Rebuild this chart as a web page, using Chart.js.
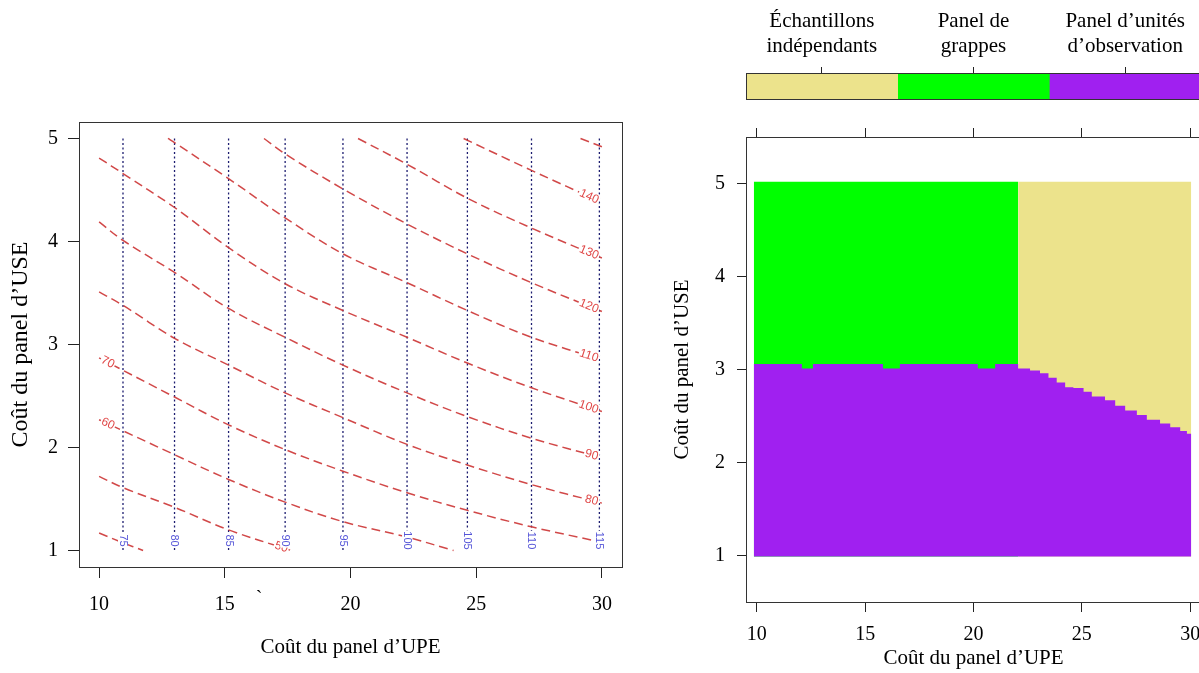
<!DOCTYPE html>
<html lang="fr">
<head>
<meta charset="utf-8">
<title>Coût du panel d’UPE et d’USE</title>
<script src="https://cdn.jsdelivr.net/npm/chart.js@4.4.1/dist/chart.umd.min.js"></script>
<style>
  html, body { margin: 0; padding: 0; background: #fff; }
  body { width: 1199px; height: 673px; overflow: hidden; position: relative; }
  canvas { position: absolute; }
  #contour { left: 0; top: 0; }
  #designKey { left: 640px; top: 0; }
  #design { left: 640px; top: 100px; }
</style>
</head>
<body>
<canvas id="contour" width="640" height="673"></canvas>
<canvas id="designKey" width="600" height="100"></canvas>
<canvas id="design" width="600" height="573"></canvas>
<script>
// axes
const upeTicks = [10, 15, 20, 25, 30];
const useTicks = [1, 2, 3, 4, 5];
const useRange = [1, 5];

// courbes de coût total (rouge), points [coût UPE, coût USE]
const isoLevels = [40, 50, 60, 70, 80, 90, 100, 110, 120, 130, 140, 150];
const iso40 = [[10, 1.17], [10.9, 1.08], [11.75, 1.0]];
const iso50 = [[10, 1.72], [10.95, 1.61], [13.0, 1.42], [15.15, 1.20], [17.65, 1.0]];
const iso60 = [[10, 2.27], [13.0, 1.93], [15.15, 1.69], [17.4, 1.47], [19.7, 1.28], [22.25, 1.13], [24.1, 1.0]];
const iso70 = [[10, 2.87], [13.0, 2.49], [15.15, 2.22], [17.4, 1.98], [19.7, 1.77], [22.25, 1.56], [24.65, 1.39], [27.2, 1.23], [30, 1.08]];
const iso80 = [[10, 3.51], [10.95, 3.38], [13.0, 3.06], [15.15, 2.80], [17.4, 2.53], [19.7, 2.29], [22.25, 2.03], [24.65, 1.83], [27.2, 1.64], [30, 1.46]];
const iso90 = [[10, 4.19], [10.95, 4.01], [13.0, 3.70], [15.15, 3.35], [17.4, 3.07], [19.7, 2.80], [22.25, 2.53], [24.65, 2.30], [27.2, 2.09], [30, 1.90]];
const iso100 = [[10, 4.81], [10.95, 4.66], [13.0, 4.33], [15.15, 3.94], [17.4, 3.59], [19.7, 3.33], [22.25, 3.07], [24.65, 2.82], [27.2, 2.58], [30, 2.35]];
const iso110 = [[12.74, 5.0], [13.0, 4.96], [15.15, 4.61], [17.4, 4.23], [19.7, 3.88], [22.25, 3.60], [24.65, 3.33], [27.2, 3.07], [30, 2.85]];
const iso120 = [[16.56, 5.0], [17.4, 4.85], [19.7, 4.51], [22.25, 4.17], [24.65, 3.88], [27.2, 3.60], [30, 3.32]];
const iso130 = [[20.3, 5.0], [22.25, 4.75], [24.65, 4.42], [27.2, 4.13], [30, 3.84]];
const iso140 = [[24.5, 5.0], [27.2, 4.69], [30, 4.38]];
const iso150 = [[29.15, 5.0], [30, 4.92]];
const isoLines = [iso40, iso50, iso60, iso70, iso80, iso90, iso100, iso110, iso120, iso130, iso140, iso150];
const isoLabelEnds = [null, 'end', 'start', 'start', 'end', 'end', 'end', 'end', 'end', 'end', 'end', null];

// coût du panel d'UPE seul (bleu)
const upeLevels = [75, 80, 85, 90, 95, 100, 105, 110, 115];
const upeAt = [10.95, 13.0, 15.15, 17.4, 19.7, 22.25, 24.65, 27.2, 29.9];

// plan optimal
const designNames = [['Échantillons', 'indépendants'], ['Panel de', 'grappes'], ['Panel d’unités', 'd’observation']];
const keyShare = [1, 1, 1];
const keyTicks = [0.5, 1.5, 2.5];
const designColors = ['#ece38c', '#00ff00', '#a020f0'];
const gridBottom = 0.99;
const greenBlock = [[9.86, 5.02], [22.06, 5.02]];
const khakiBlock = [[22.06, 5.02], [30.05, 5.02]];
const purpleTop = [
    [9.86, 3.06], [12.08, 3.01], [12.59, 3.06], [15.82, 3.01], [16.6, 3.06], [20.2, 3.01], [21.0, 3.06],
    [22.06, 3.01], [22.61, 2.99], [23.07, 2.96], [23.46, 2.91], [23.84, 2.86], [24.23, 2.81], [24.61, 2.80],
    [25.08, 2.76], [25.46, 2.71], [26.07, 2.67], [26.54, 2.61], [27.0, 2.56], [27.54, 2.51], [28.0, 2.46],
    [28.61, 2.42], [29.08, 2.38], [29.54, 2.34], [29.85, 2.31], [30.05, 2.31]
];

const serif = '"Liberation Serif", "Times New Roman", serif';
const red = 'rgba(204, 52, 52, 0.9)';
const blue = '#1c1c70';
const toPts = arr => arr.map(([x, y]) => ({ x, y }));
const fixTicks = vals => scale => { scale.ticks = vals.map(v => ({ value: v })); };

const boxPlugin = {
    id: 'box',
    afterDraw(chart) {
        const { ctx, chartArea: a } = chart;
        ctx.save();
        ctx.strokeStyle = '#333';
        ctx.lineWidth = 1;
        ctx.strokeRect(Math.round(a.left) + 0.5, Math.round(a.top) + 0.5, Math.round(a.right - a.left), Math.round(a.bottom - a.top));
        ctx.restore();
    }
};

const contourLabels = {
    id: 'contourLabels',
    afterDatasetsDraw(chart) {
        const { ctx, scales: { x, y } } = chart;
        ctx.save();
        ctx.textAlign = 'center';
        ctx.textBaseline = 'middle';

        // étiquettes rouges le long des courbes
        ctx.font = '12px "Liberation Sans", Arial, sans-serif';
        isoLines.forEach((pts, i) => {
            const where = isoLabelEnds[i];
            if (!where) return;
            const a = where === 'end' ? pts[pts.length - 1] : pts[0];
            const b = where === 'end' ? pts[pts.length - 2] : pts[1];
            const ax = x.getPixelForValue(a[0]), ay = y.getPixelForValue(a[1]);
            const bx = x.getPixelForValue(b[0]), by = y.getPixelForValue(b[1]);
            const len = Math.hypot(bx - ax, by - ay);
            const ux = (bx - ax) / len, uy = (by - ay) / len;
            const txt = String(isoLevels[i]);
            const w = ctx.measureText(txt).width;
            const off = (where === 'end' ? 4 : 3) + w / 2;
            let ang = Math.atan2(uy, ux);
            if (ang > Math.PI / 2) ang -= Math.PI;
            if (ang < -Math.PI / 2) ang += Math.PI;
            ctx.save();
            ctx.translate(ax + ux * off, ay + uy * off);
            ctx.rotate(ang);
            ctx.fillStyle = '#fff';
            ctx.fillRect(-w / 2 - 1, -6, w + 2, 12);
            ctx.fillStyle = '#e04848';
            ctx.fillText(txt, 0, 0);
            ctx.restore();
        });

        // étiquettes bleues verticales
        ctx.font = '11px "Liberation Sans", Arial, sans-serif';
        upeAt.forEach((v, i) => {
            const txt = String(upeLevels[i]);
            const w = ctx.measureText(txt).width;
            ctx.save();
            ctx.translate(x.getPixelForValue(v), y.getPixelForValue(useRange[0]) - 10);
            ctx.rotate(Math.PI / 2);
            ctx.fillStyle = '#fff';
            ctx.fillRect(-w / 2 - 1, -5, w + 2, 10);
            ctx.fillStyle = '#5555d8';
            ctx.fillText(txt, 0, 0);
            ctx.restore();
        });

        ctx.font = '20px ' + serif;
        ctx.fillStyle = '#000';
        ctx.fillText('`', 259, 600);
        ctx.restore();
    }
};

const contourSets = isoLines.map((pts, i) => ({
    label: `Coût ${isoLevels[i]}`,
    data: toPts(pts),
    showLine: true,
    borderColor: red,
    borderWidth: 1.5,
    borderDash: [9, 5],
    pointRadius: 0,
    tension: 0.35
}));

const upeSets = upeAt.map((v, i) => ({
    label: `UPE ${upeLevels[i]}`,
    data: [{ x: v, y: useRange[1] }, { x: v, y: useRange[0] }],
    showLine: true,
    borderColor: blue,
    borderWidth: 1.3,
    borderDash: [2, 2.5],
    pointRadius: 0
}));

new Chart(document.getElementById('contour'), {
    type: 'scatter',
    data: { datasets: [...contourSets, ...upeSets] },
    options: {
        responsive: false,
        animation: false,
        devicePixelRatio: 1,
        events: [],
        layout: { padding: { top: 122, right: 18, bottom: 0, left: 0 } },
        plugins: { legend: { display: false }, tooltip: { enabled: false } },
        scales: {
            x: {
                type: 'linear', min: 9.2, max: 30.8,
                afterBuildTicks: fixTicks(upeTicks),
                afterFit: s => { s.height = 106; },
                grid: { drawOnChartArea: false, tickLength: 11, color: '#222' },
                border: { display: false },
                ticks: { font: { family: serif, size: 20 }, color: '#000', padding: 15, maxRotation: 0 },
                title: { display: true, text: 'Coût du panel d’UPE', font: { family: serif, size: 21 }, color: '#000', padding: { bottom: 13 } }
            },
            y: {
                type: 'linear', min: 0.84, max: 5.16,
                afterBuildTicks: fixTicks(useTicks),
                afterFit: s => { s.width = 79; },
                grid: { drawOnChartArea: false, tickLength: 11, color: '#222' },
                border: { display: false },
                ticks: { font: { family: serif, size: 20 }, color: '#000', padding: 10 },
                title: { display: true, text: 'Coût du panel d’USE', font: { family: serif, size: 24 }, color: '#000', padding: { top: 6 } }
            }
        }
    },
    plugins: [contourLabels, boxPlugin]
});

// légende des couleurs
new Chart(document.getElementById('designKey'), {
    type: 'bar',
    data: {
        labels: ['plan'],
        datasets: designNames.map((n, i) => ({
            label: n.join(' '),
            data: [keyShare[i]],
            backgroundColor: designColors[i],
            borderWidth: 0,
            barPercentage: 1,
            categoryPercentage: 1
        }))
    },
    options: {
        indexAxis: 'y',
        responsive: false,
        animation: false,
        devicePixelRatio: 1,
        events: [],
        layout: { padding: { top: 0, right: 39, bottom: 1, left: 106 } },
        plugins: { legend: { display: false }, tooltip: { enabled: false } },
        scales: {
            x: {
                type: 'linear', position: 'top', stacked: true, min: 0, max: 3,
                afterBuildTicks: fixTicks(keyTicks),
                afterFit: s => { s.height = 73; },
                grid: { drawOnChartArea: false, tickLength: 6, color: '#222' },
                border: { display: false },
                ticks: {
                    font: { family: serif, size: 21 }, color: '#000', padding: 8,
                    maxRotation: 0, autoSkip: false,
                    callback: (v, i) => designNames[i]
                }
            },
            y: { stacked: true, display: false }
        }
    },
    plugins: [boxPlugin]
});

// plan optimal selon les coûts
new Chart(document.getElementById('design'), {
    type: 'scatter',
    data: {
        datasets: [
            { label: designNames[2].join(' '), data: toPts(purpleTop), showLine: true, stepped: true, fill: { value: gridBottom }, backgroundColor: designColors[2], borderColor: designColors[2], borderWidth: 0, pointRadius: 0 },
            { label: designNames[1].join(' '), data: toPts(greenBlock), showLine: true, fill: { value: gridBottom }, backgroundColor: designColors[1], borderColor: designColors[1], borderWidth: 0, pointRadius: 0 },
            { label: designNames[0].join(' '), data: toPts(khakiBlock), showLine: true, fill: { value: gridBottom }, backgroundColor: designColors[0], borderColor: designColors[0], borderWidth: 0, pointRadius: 0 }
        ]
    },
    options: {
        responsive: false,
        animation: false,
        devicePixelRatio: 1,
        events: [],
        layout: { padding: { top: 27, right: 39, bottom: 0, left: 0 } },
        plugins: { legend: { display: false }, tooltip: { enabled: false } },
        scales: {
            x: {
                type: 'linear', min: 9.5, max: 30.5,
                afterBuildTicks: fixTicks(upeTicks),
                afterFit: s => { s.height = 71; },
                grid: { drawOnChartArea: false, tickLength: 10, color: '#222' },
                border: { display: false },
                ticks: { font: { family: serif, size: 20 }, color: '#000', padding: 11, maxRotation: 0 },
                title: { display: true, text: 'Coût du panel d’UPE', font: { family: serif, size: 21 }, color: '#000', padding: { bottom: 2 } }
            },
            xTop: {
                type: 'linear', axis: 'x', position: 'top', min: 9.5, max: 30.5,
                afterBuildTicks: fixTicks(upeTicks),
                afterFit: s => { s.height = 10; },
                grid: { drawOnChartArea: false, tickLength: 9, color: '#222' },
                border: { display: false },
                ticks: { display: false }
            },
            y: {
                type: 'linear', min: 0.5, max: 5.5,
                afterBuildTicks: fixTicks(useTicks),
                afterFit: s => { s.width = 106; },
                grid: { drawOnChartArea: false, tickLength: 9, color: '#222' },
                border: { display: false },
                ticks: { font: { family: serif, size: 20 }, color: '#000', padding: 12 },
                title: { display: true, text: 'Coût du panel d’USE', font: { family: serif, size: 21 }, color: '#000', padding: { top: 30 } }
            }
        }
    },
    plugins: [boxPlugin]
});
</script>
</body>
</html>
